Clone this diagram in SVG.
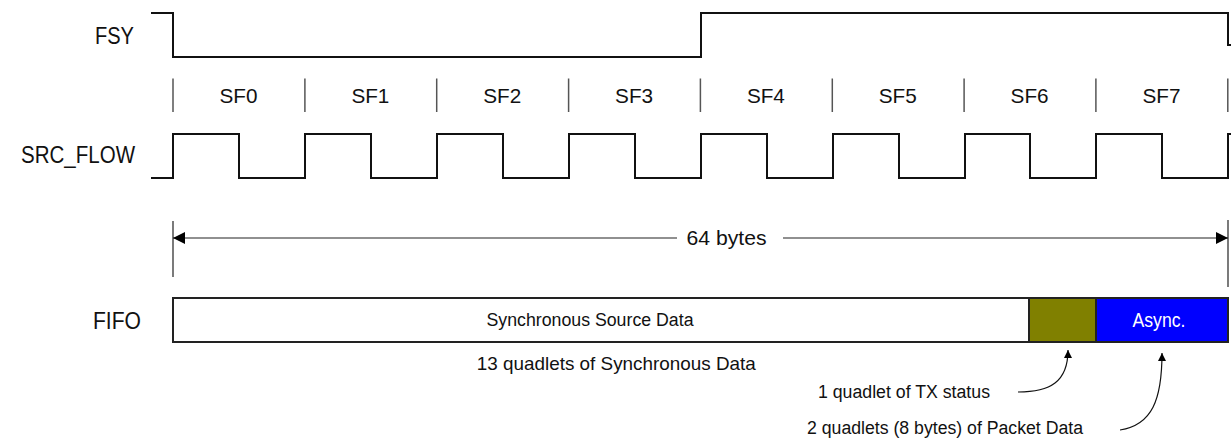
<svg xmlns="http://www.w3.org/2000/svg" width="1231" height="439" viewBox="0 0 1231 439">
<style>
.lbl{font-family:"Liberation Sans",Arial,sans-serif;fill:#111;}
.wave{fill:none;stroke:#111;stroke-width:2;}
.tick{stroke:#555;stroke-width:1.5;}
.dim{fill:none;stroke:#222;stroke-width:1.2;}
.box{stroke:#222;stroke-width:2;}
.conn{fill:none;stroke:#111;stroke-width:1.2;}
</style>
<defs>
<marker id="bigArrow" viewBox="0 0 10 10" refX="10" refY="5" markerWidth="13" markerHeight="12" orient="auto" markerUnits="userSpaceOnUse">
<path d="M0,0 L10,5 L0,10 z" fill="#000"/>
</marker>
<marker id="smallArrow" viewBox="0 0 10 10" refX="10" refY="5" markerWidth="9" markerHeight="8" orient="auto" markerUnits="userSpaceOnUse">
<path d="M0,0 L10,5 L0,10 z" fill="#000"/>
</marker>
</defs>
<rect width="1231" height="439" fill="#fff"/>

<g id="fsy">
<text class="lbl" x="95" y="44" font-size="23.5" textLength="39" lengthAdjust="spacingAndGlyphs">FSY</text>
<path class="wave" d="M151,13 H173 V57 H701 V13 H1228 V45 H1231"/>
</g>

<g id="subframes">
<g class="ticks">
<line class="tick" x1="173" y1="78.5" x2="173" y2="112"/>
<line class="tick" x1="304.9" y1="78.5" x2="304.9" y2="112"/>
<line class="tick" x1="436.7" y1="78.5" x2="436.7" y2="112"/>
<line class="tick" x1="568.6" y1="78.5" x2="568.6" y2="112"/>
<line class="tick" x1="700.4" y1="78.5" x2="700.4" y2="112"/>
<line class="tick" x1="832.3" y1="78.5" x2="832.3" y2="112"/>
<line class="tick" x1="964.1" y1="78.5" x2="964.1" y2="112"/>
<line class="tick" x1="1095.9" y1="78.5" x2="1095.9" y2="112"/>
<line class="tick" x1="1227.8" y1="78.5" x2="1227.8" y2="112"/>
</g>
<g font-size="21" text-anchor="middle">
<text class="lbl" x="238.5" y="103" textLength="38" lengthAdjust="spacingAndGlyphs">SF0</text>
<text class="lbl" x="370.4" y="103" textLength="38" lengthAdjust="spacingAndGlyphs">SF1</text>
<text class="lbl" x="502.2" y="103" textLength="38" lengthAdjust="spacingAndGlyphs">SF2</text>
<text class="lbl" x="634.1" y="103" textLength="38" lengthAdjust="spacingAndGlyphs">SF3</text>
<text class="lbl" x="765.9" y="103" textLength="38" lengthAdjust="spacingAndGlyphs">SF4</text>
<text class="lbl" x="897.8" y="103" textLength="38" lengthAdjust="spacingAndGlyphs">SF5</text>
<text class="lbl" x="1029.6" y="103" textLength="38" lengthAdjust="spacingAndGlyphs">SF6</text>
<text class="lbl" x="1161.5" y="103" textLength="38" lengthAdjust="spacingAndGlyphs">SF7</text>
</g>
</g>

<g id="src_flow">
<text class="lbl" x="21" y="163" font-size="23.5" textLength="114" lengthAdjust="spacingAndGlyphs">SRC_FLOW</text>
<path class="wave" d="M151,178 H173 V134 H239 V178 H305 V134 H371 V178 H437 V134 H503 V178 H569 V134 H635 V178 H701 V134 H767 V178 H833 V134 H899 V178 H965 V134 H1030 V178 H1096 V134 H1162 V178 H1228 V134 H1231"/>
</g>

<g id="extent">
<line class="dim" x1="173" y1="221" x2="173" y2="277"/>
<line class="dim" x1="1228" y1="220" x2="1228" y2="287"/>
<text class="lbl" x="726.5" y="245" font-size="21" text-anchor="middle" textLength="80" lengthAdjust="spacingAndGlyphs">64 bytes</text>
</g>

<g id="fifo">
<text class="lbl" x="93" y="329" font-size="23.5" textLength="48" lengthAdjust="spacingAndGlyphs">FIFO</text>
<rect class="box" x="173" y="298" width="856" height="44" fill="#fff"/>
<text class="lbl" x="590" y="326" font-size="18" text-anchor="middle" textLength="207" lengthAdjust="spacingAndGlyphs">Synchronous Source Data</text>
</g>

<g id="tx-status">
<rect class="box" x="1029" y="298" width="67" height="44" fill="#808000"/>
</g>

<g id="async">
<rect class="box" x="1096" y="298" width="132" height="44" fill="#0000ff"/>
<text x="1159" y="327" font-family="'Liberation Sans',Arial,sans-serif" font-size="19.5" fill="#fff" text-anchor="middle" textLength="53" lengthAdjust="spacingAndGlyphs">Async.</text>
</g>

<g id="annotations">
<text class="lbl" x="616.3" y="370" font-size="19" text-anchor="middle" textLength="279" lengthAdjust="spacingAndGlyphs">13 quadlets of Synchronous Data</text>
<text class="lbl" x="818" y="398" font-size="18" textLength="172" lengthAdjust="spacingAndGlyphs">1 quadlet of TX status</text>
<text class="lbl" x="807" y="434" font-size="18" textLength="276" lengthAdjust="spacingAndGlyphs">2 quadlets (8 bytes) of Packet Data</text>
</g>

<g id="connectors">
<path class="dim" d="M677,238 H173" marker-end="url(#bigArrow)"/>
<path class="dim" d="M783,238 H1228" marker-end="url(#bigArrow)"/>
<path class="conn" d="M1018,392 C1050,392 1068,382 1068,350" marker-end="url(#smallArrow)"/>
<path class="conn" d="M1120,430 C1152,425 1162,400 1162,353" marker-end="url(#smallArrow)"/>
</g>
</svg>
